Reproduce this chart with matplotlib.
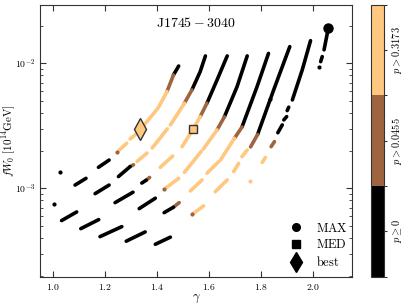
import math
import matplotlib
matplotlib.use("Agg")
import matplotlib.pyplot as plt
from matplotlib.colors import ListedColormap, BoundaryNorm
from matplotlib.cm import ScalarMappable
from matplotlib.lines import Line2D
from matplotlib.ticker import FuncFormatter, FixedLocator

plt.rcParams['mathtext.fontset'] = 'cm'
plt.rcParams['font.family'] = 'serif'
plt.rcParams['font.serif'] = ['DejaVu Serif']

# p-value bins: 0 -> p >= 0, 1 -> p > 0.0455, 2 -> p > 0.3173
copper = plt.get_cmap('copper')
cmap = ListedColormap([copper(0.0), copper(0.5), copper(1.0)])
bin_labels = [r'$p \geq 0$', r'$p > 0.0455$', r'$p > 0.3173$']

# each arc: list of (bin, gamma values, fW0 values) pieces
arc0 = [(0, [1.026], [1.34e-3])]
arc1 = [
    (0, [1.483, 1.463], [9.5e-3, 8.06e-3]),
    (1, [1.463, 1.438], [8.06e-3, 5.93e-3]),
    (2, [1.438, 1.404, 1.366, 1.322, 1.296], [5.93e-3, 4.39e-3, 3.52e-3, 2.75e-3, 2.48e-3]),
    (2, [1.283, 1.254], [2.29e-3, 2.02e-3]),
    (1, [1.246], [1.95e-3]),
    (0, [1.215, 1.174], [1.68e-3, 1.47e-3]),
    (0, [1.126, 1.084], [1.20e-3, 1.06e-3]),
    (0, [1.003], [7.45e-4]),
]
arc2 = [
    (0, [1.586, 1.566, 1.534], [1.144e-2, 8.57e-3, 6.12e-3]),
    (1, [1.534, 1.505], [6.12e-3, 4.79e-3]),
    (2, [1.505, 1.474, 1.451], [4.79e-3, 3.79e-3, 3.21e-3]),
    (2, [1.439, 1.381], [2.98e-3, 2.10e-3]),
    (2, [1.361, 1.323], [1.91e-3, 1.64e-3]),
    (1, [1.309, 1.296], [1.54e-3, 1.49e-3]),
    (0, [1.296, 1.251], [1.49e-3, 1.24e-3]),
    (0, [1.215, 1.161], [1.06e-3, 9.05e-4]),
    (0, [1.090, 1.032], [6.46e-4, 5.51e-4]),
]
arc3 = [
    (0, [1.670, 1.631, 1.592], [1.144e-2, 7.36e-3, 4.79e-3]),
    (1, [1.592, 1.566], [4.79e-3, 3.74e-3]),
    (2, [1.566, 1.538, 1.496], [3.74e-3, 2.96e-3, 2.15e-3]),
    (2, [1.460, 1.412], [1.81e-3, 1.47e-3]),
    (1, [1.371, 1.358], [1.22e-3, 1.16e-3]),
    (0, [1.358, 1.341], [1.16e-3, 1.10e-3]),
    (0, [1.307, 1.238], [9.29e-4, 7.67e-4]),
    (0, [1.175, 1.106], [5.61e-4, 4.75e-4]),
]
arc4 = [
    (0, [1.747, 1.708, 1.659], [1.144e-2, 6.50e-3, 3.72e-3]),
    (1, [1.659, 1.631], [3.72e-3, 2.93e-3]),
    (2, [1.631, 1.578], [2.93e-3, 2.06e-3]),
    (2, [1.570, 1.505], [1.97e-3, 1.34e-3]),
    (2, [1.483, 1.435], [1.20e-3, 1.01e-3]),
    (1, [1.427], [9.82e-4]),
    (0, [1.393, 1.331], [8.32e-4, 6.87e-4]),
    (0, [1.264, 1.180], [4.93e-4, 4.10e-4]),
]
arc5 = [
    (0, [1.829, 1.785, 1.727], [1.198e-2, 6.50e-3, 3.09e-3]),
    (1, [1.727, 1.698], [3.09e-3, 2.51e-3]),
    (2, [1.698, 1.644], [2.51e-3, 1.68e-3]),
    (2, [1.637, 1.592], [1.63e-3, 1.32e-3]),
    (2, [1.573, 1.528], [1.165e-3, 9.51e-4]),
    (1, [1.485, 1.463], [7.67e-4, 7.05e-4]),
    (0, [1.463, 1.427], [7.05e-4, 6.38e-4]),
    (0, [1.354, 1.281], [4.47e-4, 3.77e-4]),
]
arc6 = [
    (0, [1.911, 1.849, 1.787], [1.358e-2, 6.12e-3, 2.69e-3]),
    (1, [1.787, 1.760], [2.69e-3, 2.14e-3]),
    (2, [1.747, 1.727], [2.02e-3, 1.79e-3]),
    (2, [1.714, 1.695], [1.58e-3, 1.36e-3]),
    (2, [1.670, 1.624], [1.165e-3, 9.39e-4]),
    (2, [1.579, 1.541], [7.22e-4, 6.31e-4]),
    (1, [1.534], [6.19e-4]),
    (0, [1.451, 1.393], [4.06e-4, 3.56e-4]),
]
arc7 = [
    (0, [1.991, 1.959, 1.921], [1.516e-2, 8.84e-3, 5.09e-3]),
    (0, [1.907, 1.901], [4.45e-3, 4.18e-3]),
    (0, [1.899, 1.888], [3.74e-3, 3.52e-3]),
    (0, [1.882, 1.865], [3.21e-3, 2.78e-3]),
    (1, [1.852, 1.839], [2.36e-3, 2.15e-3]),
    (2, [1.817, 1.805], [1.76e-3, 1.61e-3]),
    (2, [1.757], [1.15e-3]),
    (0, [1.834], [5.18e-3]),
]
arc_max = [
    (0, [2.060, 2.043], [1.93e-2, 1.28e-2]),
    (0, [2.036, 2.030], [1.13e-2, 1.03e-2]),
    (0, [2.023], [9.39e-3]),
]
arcs = [arc0, arc1, arc2, arc3, arc4, arc5, arc6, arc7, arc_max]

# special points
max_pt = (2.060, 1.93e-2)
med_pt = (1.538, 2.96e-3)
best_pt = (1.335, 2.96e-3)

fig = plt.figure(figsize=(4.03, 3.07), dpi=100)
ax = fig.add_axes([0.1, 0.0987, 0.773, 0.886])

for arc in arcs:
    for b, g, f in arc:
        if len(g) == 1:
            ax.plot(g, f, 'o', ms=3.0, mec='none', color=cmap(b), zorder=2)
        else:
            ax.plot(g, f, '-', lw=2.6, color=cmap(b), solid_capstyle='round', zorder=2)

ax.plot(*max_pt, 'o', ms=6.5, color='k', zorder=4)
ax.plot(*med_pt, 's', ms=6, mfc=cmap(2), mec='#333333', mew=1.0, zorder=4)
ax.plot(*best_pt, 'd', ms=11, mfc=cmap(2), mec='#333333', mew=1.0, zorder=4)

ax.set_yscale('log')
ax.set_xlim(0.95, 2.15)
ax.set_ylim(1.96e-4, 2.94e-2)
ax.xaxis.set_major_locator(FixedLocator([1.0, 1.2, 1.4, 1.6, 1.8, 2.0]))
ax.xaxis.set_major_formatter(FuncFormatter(lambda v, p: r'$%.1f$' % v))
ax.yaxis.set_major_formatter(FuncFormatter(lambda v, p: r'$10^{%d}$' % round(math.log10(v))))
ax.tick_params(which='both', direction='in', top=True, right=True, labelsize=7, color='#333333')
ax.tick_params(which='major', length=4)
ax.tick_params(which='minor', length=2)
for s in ax.spines.values():
    s.set_color('#333333')

ax.set_xlabel(r'$\gamma$', fontsize=9)
ax.set_ylabel(r'$fW_0\ [10^{14}\mathrm{GeV}]$', fontsize=8)
ax.xaxis.set_label_coords(0.5, -0.055)
ax.yaxis.set_label_coords(-0.07, 0.5)
ax.text(0.5, 0.933, r'$\mathrm{J1745-3040}$', transform=ax.transAxes,
        ha='center', va='center', fontsize=10)

handles = [
    Line2D([], [], ls='none', marker='o', ms=5.5, color='k'),
    Line2D([], [], ls='none', marker='s', ms=5.5, color='k'),
    Line2D([], [], ls='none', marker='d', ms=10, color='k'),
]
ax.legend(handles, [r'$\mathrm{MAX}$', r'$\mathrm{MED}$', r'$\mathrm{best}$'],
          loc='lower right', frameon=False, fontsize=9, labelspacing=0.3,
          handletextpad=0.6, borderaxespad=0.2, bbox_to_anchor=(1.01, 0.0))

cax = fig.add_axes([0.92, 0.0987, 0.034, 0.886])
sm = ScalarMappable(norm=BoundaryNorm([0, 1, 2, 3], 3), cmap=cmap)
cb = fig.colorbar(sm, cax=cax, ticks=[0.5, 1.5, 2.5])
cb.ax.set_yticklabels(bin_labels, rotation=90, va='center', fontsize=7.5)
cb.ax.tick_params(length=2, pad=2, color='#333333')
cb.outline.set_edgecolor('#333333')

fig.savefig('out.png', dpi=100)
